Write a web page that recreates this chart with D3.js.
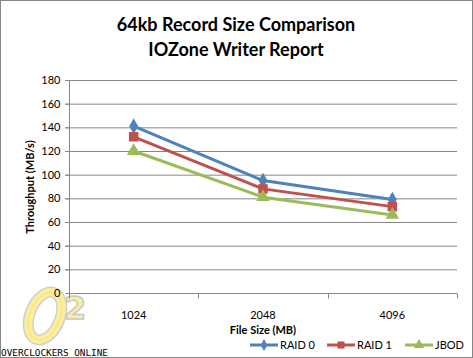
<!DOCTYPE html>
<html><head><meta charset="utf-8">
<script src="https://cdn.jsdelivr.net/npm/d3@7"></script>
<style>body{margin:0;background:#fff}svg{display:block}</style>
</head><body>
<svg id="c" width="473" height="358"></svg>
<script>
const categories = ["1024", "2048", "4096"];
const raid0 = [141, 95, 79];
const raid1 = [132, 88, 73];
const jbod = [120, 81, 66];
const yTicks = [0, 20, 40, 60, 80, 100, 120, 140, 160, 180];
const seriesNames = ["RAID 0", "RAID 1", "JBOD"];
const seriesColors = ["#4F81BD", "#C0504D", "#9BBB59"];
const seriesSymbols = [d3.symbolDiamond, d3.symbolSquare, d3.symbolTriangle];
const series = [raid0, raid1, jbod];

const svg = d3.select("#c");
const font = "Lato, 'Open Sans', sans-serif";
svg.append("rect").attr("x",0.5).attr("y",0.5).attr("width",472).attr("height",357)
  .attr("fill","#fff").attr("stroke","#868686");

const x = d3.scaleBand().domain(categories).range([69, 457]);
const y = d3.scaleLinear().domain([0,180]).range([293, 80]);

// logo (O² graphic + caption)
const logo = svg.append("g");
const ring = logo.append("g").attr("transform","translate(45,316) rotate(22)");
ring.append("ellipse").attr("rx",15).attr("ry",25).attr("fill","none").attr("stroke","#cfcfcf").attr("stroke-width",11);
ring.append("ellipse").attr("rx",15).attr("ry",25).attr("fill","none").attr("stroke","#fbef9e").attr("stroke-width",8);
ring.append("ellipse").attr("rx",15).attr("ry",25).attr("fill","none").attr("stroke","#f3e27a").attr("stroke-width",1);
logo.append("text").attr("x",64).attr("y",319).attr("font-family","'DejaVu Sans', sans-serif")
  .attr("font-weight","bold").attr("font-size",32).attr("fill","#fbef9e").attr("stroke","#c8c8c8")
  .attr("stroke-width",1.5).text("2");
logo.append("text").attr("x",1).attr("y",356).attr("font-family","'DejaVu Sans Mono', monospace")
  .attr("font-size",9.5).attr("fill","#000").attr("textLength",107).attr("lengthAdjust","spacingAndGlyphs")
  .text("OVERCLOCKERS ONLINE");

// gridlines
svg.append("g").selectAll("line").data(yTicks.filter(d=>d>0)).join("line")
  .attr("x1",65).attr("x2",457).attr("y1",d=>y(d)+0.5).attr("y2",d=>y(d)+0.5)
  .attr("stroke","#868686").attr("stroke-width",1);

// y axis
const ya = svg.append("g").attr("transform","translate(69.5,0)")
  .call(d3.axisLeft(y).tickValues(yTicks).tickSize(4).tickPadding(5));
ya.select(".domain").attr("stroke","#868686").attr("d","M0,80V293.5");
ya.selectAll(".tick line").attr("stroke","#868686");
ya.selectAll("text").attr("font-family",font).attr("font-size",11).attr("fill","#000");

// x axis
const xa = svg.append("g").attr("transform","translate(0,293.5)")
  .call(d3.axisBottom(x).tickSize(0).tickPadding(18));
xa.select(".domain").attr("stroke","#868686").attr("d","M69,0H457");
xa.selectAll("text").attr("font-family",font).attr("font-size",11).attr("fill","#000");
xa.append("g").selectAll("line").data([69,198.3,327.7,457]).join("line")
  .attr("x1",d=>Math.round(d)+0.5).attr("x2",d=>Math.round(d)+0.5).attr("y1",0).attr("y2",5)
  .attr("stroke","#868686");

// series
const cx = c => x(c) + x.bandwidth()/2;
series.forEach((vals,i)=>{
  const g = svg.append("g");
  g.append("path").datum(vals).attr("fill","none").attr("stroke",seriesColors[i]).attr("stroke-width",3)
    .attr("stroke-linejoin","round")
    .attr("d", d3.line().x((d,j)=>cx(categories[j])).y(d=>y(d)));
  g.selectAll("path.m").data(vals).join("path").attr("class","m")
    .attr("transform",(d,j)=>`translate(${cx(categories[j])},${y(d)})`)
    .attr("d", d3.symbol().type(seriesSymbols[i]).size(i===0?70:i===1?90:80))
    .attr("fill",seriesColors[i]);
});

// titles
svg.append("text").attr("x",236).attr("y",31).attr("text-anchor","middle").attr("font-family",font)
  .attr("font-weight","bold").attr("font-size",18).text("64kb Record Size Comparison");
svg.append("text").attr("x",236).attr("y",56).attr("text-anchor","middle").attr("font-family",font)
  .attr("font-weight","bold").attr("font-size",18).text("IOZone Writer Report");
svg.append("text").attr("x",263).attr("y",334).attr("text-anchor","middle").attr("font-family",font)
  .attr("font-weight","bold").attr("font-size",11).text("File Size  (MB)");
svg.append("text").attr("transform","translate(34,187) rotate(-90)").attr("text-anchor","middle")
  .attr("font-family",font).attr("font-weight","bold").attr("font-size",11).text("Throughput  (MB/s)");

// legend
const legX = [250, 327, 405];
seriesNames.forEach((n,i)=>{
  const g = svg.append("g").attr("transform",`translate(${legX[i]},345)`);
  g.append("line").attr("x1",0).attr("x2",28).attr("y1",0).attr("y2",0)
    .attr("stroke",seriesColors[i]).attr("stroke-width",3);
  g.append("path").attr("transform","translate(14,0)")
    .attr("d", d3.symbol().type(seriesSymbols[i]).size(i===0?40:i===1?50:45)).attr("fill",seriesColors[i]);
  g.append("text").attr("x",30).attr("y",4).attr("font-family",font).attr("font-size",11).text(n);
});
</script>
</body></html>
